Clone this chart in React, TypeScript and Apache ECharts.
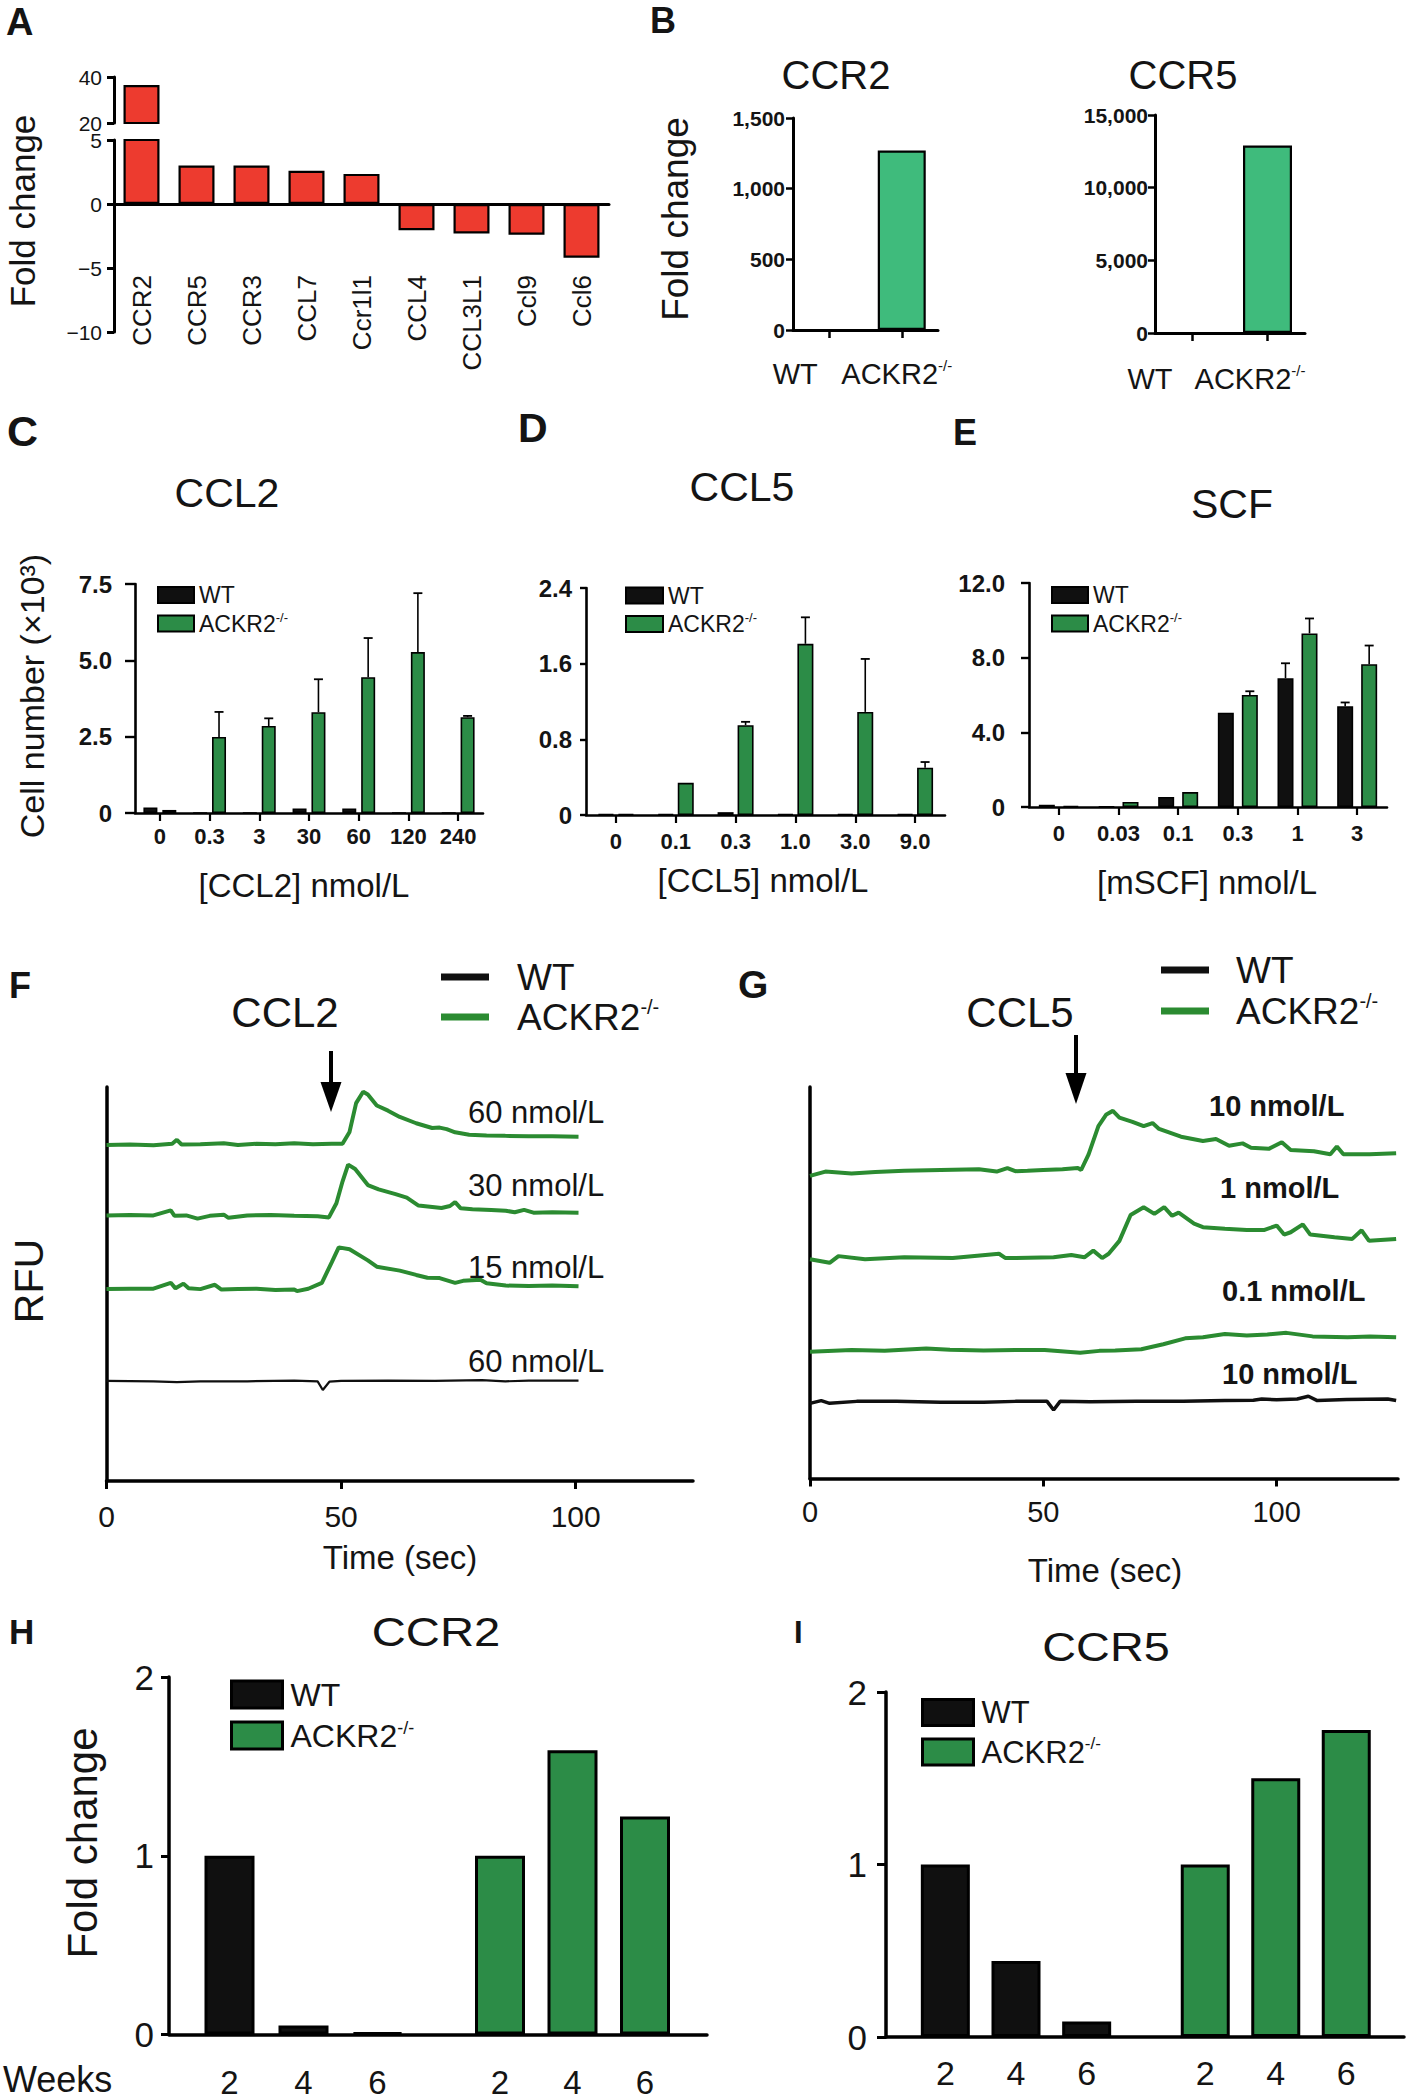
import React, { useEffect, useRef } from 'react';
import * as echarts from 'echarts';

const FONT = "'Liberation Sans', Arial, Helvetica, sans-serif";
const TXT = '#141414';
const RED = '#ED3B2F';
const LIGHT_GREEN = '#3FBB7C';
const GREEN = '#2C8C47';
const TRACE_GREEN = '#2B8B31';
const BLACK = '#101010';

// ---------- Panel A ----------
const A_GENES = ['CCR2', 'CCR5', 'CCR3', 'CCL7', 'Ccr1l1', 'CCL4', 'CCL3L1', 'Ccl9', 'Ccl6'];
const A_FOLD = [36.5, 3.0, 3.0, 2.6, 2.35, -2.05, -2.3, -2.4, -4.2];

// ---------- Panel B ----------
const B_GROUPS = ['WT', 'ACKR2-/-'];
const B_CCR2 = [0, 1270];
const B_CCR5 = [0, 12900];

// ---------- Panel C ----------
const C_DOSES = ['0', '0.3', '3', '30', '60', '120', '240'];
const C_WT = [0.18, 0, 0, 0.15, 0.15, 0, 0];
const C_KO = [0.1, 2.49, 2.85, 3.3, 4.45, 5.27, 3.14];
const C_KO_ERR = [0, 0.82, 0.25, 1.08, 1.28, 1.93, 0.04];

// ---------- Panel D ----------
const D_DOSES = ['0', '0.1', '0.3', '1.0', '3.0', '9.0'];
const D_WT = [0.01, 0.01, 0.03, 0.01, 0.01, 0.01];
const D_KO = [0.01, 0.34, 0.95, 1.81, 1.09, 0.5];
const D_KO_ERR = [0, 0, 0.035, 0.28, 0.56, 0.06];

// ---------- Panel E ----------
const E_DOSES = ['0', '0.03', '0.1', '0.3', '1', '3'];
const E_WT = [0.12, 0.02, 0.54, 5.05, 6.9, 5.4];
const E_WT_ERR = [0, 0, 0, 0, 0.8, 0.2];
const E_KO = [0.06, 0.27, 0.8, 6.0, 9.3, 7.65];
const E_KO_ERR = [0, 0, 0, 0.2, 0.8, 1.0];

// ---------- Panel F (time s, RFU arbitrary 0-100) ----------
const F_KO_60 = [[0, 85.3], [5, 85.4], [10, 85.2], [14, 85.6], [15, 86.6], [16, 85.4], [20, 85.5], [25, 85.7], [28, 85.3], [32, 85.6], [36, 85.5], [40, 85.7], [44, 85.5], [48, 85.6], [50.3, 85.6], [51.8, 88.6], [53.2, 95.9], [54.7, 98.8], [55.7, 98.1], [57.6, 95.3], [60, 94], [62.5, 92.4], [66, 90.8], [69.4, 89.6], [71, 89.7], [72.5, 89.3], [74.3, 88.5], [77.3, 87.9], [81, 87.7], [85, 87.6], [90, 87.5], [95, 87.5], [100.6, 87.4]];
const F_KO_30 = [[0, 67.4], [5, 67.5], [10, 67.4], [13.7, 68.7], [14.5, 67.3], [17, 67.4], [19.4, 66.6], [22, 67.3], [25, 67.6], [26, 66.8], [30, 67.4], [35, 67.5], [40, 67.3], [45, 67.2], [47.4, 66.9], [49, 70.5], [50.3, 76], [51.5, 80.3], [53, 79.2], [55.7, 75.1], [58, 74], [61.6, 72.8], [64, 71.9], [66.5, 69.9], [71.4, 69.3], [73.2, 69.8], [74.3, 70.8], [75.5, 69.2], [78, 69], [82, 68.8], [85.1, 68.6], [87, 68.2], [89, 68.8], [91, 68.1], [95, 68.2], [100.6, 68.1]];
const F_KO_15 = [[0, 48.7], [5, 48.8], [10, 48.8], [13.7, 50.3], [14.7, 48.9], [16.4, 50.1], [17.5, 48.9], [20, 48.7], [23.1, 49.8], [24.5, 48.6], [28, 48.7], [32, 48.8], [36, 48.5], [40, 48.6], [40.6, 48.2], [43, 48.8], [45.9, 50.3], [48, 55.5], [49.5, 59.3], [51.8, 58.8], [55.7, 56.0], [57.6, 54.4], [62.5, 53.4], [66, 52.3], [68.4, 51.6], [71, 51.5], [74.3, 50.3], [76, 50.8], [79.7, 51.1], [81, 50.2], [85.1, 49.6], [90, 49.5], [95, 49.6], [100.6, 49.4]];
const F_WT_60 = [[0, 25.4], [10, 25.3], [15, 25.1], [20, 25.3], [30, 25.3], [40, 25.5], [45, 25.3], [46.1, 23.1], [47.5, 25.2], [50, 25.4], [60, 25.5], [70, 25.4], [80, 25.6], [85, 25.3], [90, 25.5], [100.6, 25.5]];
const F_LABELS = ['60 nmol/L', '30 nmol/L', '15 nmol/L', '60 nmol/L'];

// ---------- Panel G ----------
const G_KO_10 = [[0, 77.3], [3.3, 78.4], [8.9, 77.9], [14, 78.3], [20.2, 78.6], [28, 78.8], [36.2, 79.0], [40, 78.4], [42.3, 79.3], [44, 78.5], [46.6, 78.6], [50, 78.8], [54.1, 79.0], [57.4, 79.3], [58.1, 78.8], [59.7, 82.8], [61.8, 90.0], [63.5, 93.0], [64.9, 93.9], [66.3, 92.2], [69.1, 91.1], [71.5, 90.0], [73.4, 90.8], [74.8, 89.3], [79.5, 87.3], [84.2, 86.2], [87, 86.7], [89.8, 85.0], [92.7, 85.6], [94.5, 84.5], [98.3, 84.2], [101.1, 85.9], [103, 83.9], [108, 83.6], [111.5, 82.8], [112.9, 84.8], [114.3, 82.8], [119.9, 82.8], [125.6, 83.1]];
const G_KO_1 = [[0, 56.0], [4.2, 55.1], [6.1, 56.8], [11.8, 56.0], [20.2, 56.5], [30.6, 56.3], [40.5, 57.4], [41.9, 56.3], [52.2, 56.5], [56, 57.1], [58.8, 56.5], [60.7, 58.2], [62.6, 56.3], [64, 57.4], [66.3, 60.7], [68.7, 67.3], [71.5, 69.3], [73.8, 67.6], [75.9, 69.3], [77.6, 67.1], [79, 67.9], [82.3, 65.1], [84.2, 64.2], [88.9, 63.8], [93.6, 63.5], [97.4, 63.5], [100, 64.6], [101.6, 62.3], [103, 62.9], [105.6, 64.9], [107.2, 62.3], [112.4, 61.6], [116.2, 61.2], [118.2, 63.4], [119.8, 60.7], [125.6, 61.2]];
const G_KO_01 = [[0, 32.4], [8.9, 32.8], [16, 32.6], [24.9, 33.2], [30, 32.9], [37.2, 32.7], [44, 32.8], [50.3, 32.8], [57.9, 32.1], [62, 32.6], [65.4, 32.7], [71, 33.0], [75.7, 34.3], [80.4, 35.8], [84.2, 36.1], [88.9, 36.9], [93.6, 36.5], [98, 36.8], [102.1, 37.2], [107.7, 36.3], [115.2, 36.1], [120, 36.3], [125.6, 36.1]];
const G_WT_10 = [[0, 19.2], [2.4, 19.9], [4.2, 19.2], [10, 19.7], [18.5, 19.7], [28, 19.5], [37.2, 19.5], [44, 19.7], [50.8, 19.7], [52.2, 17.5], [53.6, 19.7], [60, 19.6], [70, 19.7], [80, 19.7], [88.9, 19.9], [95, 20.0], [96.8, 20.3], [100, 20.1], [104.4, 20.3], [106.8, 21.0], [108.7, 19.9], [115, 20.2], [123.8, 20.3], [125.6, 19.9]];
const G_LABELS = ['10 nmol/L', '1 nmol/L', '0.1 nmol/L', '10 nmol/L'];

const TIME_TICKS = [0, 50, 100];

// ---------- Panels H / I ----------
const WEEKS = ['2', '4', '6'];
const H_WT = [1.0, 0.05, 0.01];
const H_KO = [1.0, 1.59, 1.22];
const I_WT = [1.0, 0.44, 0.09];
const I_KO = [1.0, 1.5, 1.78];

// ---------- helpers ----------
function grid(left: number, top: number, width: number, height: number) {
  return { left, top, width, height, containLabel: false, outerBoundsMode: 'none' };
}
const aline = (w: number, extra: any = {}) => ({ show: true, onZero: true, lineStyle: { color: '#000', width: w }, ...extra });
const tick = (len: number, w: number, extra: any = {}) => ({ show: true, inside: false, length: len, lineStyle: { color: '#000', width: w }, ...extra });
const lab = (size: number, bold: boolean, margin: number, extra: any = {}) => ({
  show: true, fontSize: size, fontWeight: bold ? 'bold' : 'normal', fontFamily: FONT, color: TXT, margin, ...extra,
});
const noSplit = { show: false };

function txt(text: string, x: number, y: number, size: number, o: any = {}) {
  return {
    type: 'text', x, y, rotation: o.rot || 0, scaleX: o.sx || 1, scaleY: o.sy || 1, silent: true, z: 20,
    style: {
      text, fill: TXT, fontSize: size, fontFamily: FONT, fontWeight: o.bold ? 'bold' : 'normal',
      textAlign: o.align || 'center', textVerticalAlign: 'middle', align: o.align || 'center', verticalAlign: 'middle',
    },
  };
}

function bar(idx: number, name: string, data: number[], color: string, width: number, gap: string, bw: number) {
  return {
    type: 'bar', name, xAxisIndex: idx, yAxisIndex: idx, data, barWidth: width, barGap: gap, silent: true,
    itemStyle: { color, borderColor: '#000', borderWidth: bw }, z: 2,
  };
}

function errBars(idx: number, values: number[], errs: number[], offset: number) {
  const data: number[][] = [];
  values.forEach((v, i) => { if (errs[i] > 0) data.push([i, v, v + errs[i]]); });
  return {
    type: 'custom', xAxisIndex: idx, yAxisIndex: idx, z: 4, silent: true,
    encode: { x: 0, y: [1, 2] },
    renderItem: (params: any, api: any) => {
      const base = api.coord([api.value(0), api.value(1)]);
      const top = api.coord([api.value(0), api.value(2)]);
      const x = base[0] + offset;
      return {
        type: 'group', children: [
          { type: 'line', shape: { x1: x, y1: base[1], x2: x, y2: top[1] }, style: { stroke: '#000', lineWidth: 1.6 } },
          { type: 'line', shape: { x1: x - 4.5, y1: top[1], x2: x + 4.5, y2: top[1] }, style: { stroke: '#000', lineWidth: 1.8 } },
        ],
      };
    },
    data,
  };
}

function trace(idx: number, name: string, data: number[][], color: string, width: number) {
  return {
    type: 'line', name, xAxisIndex: idx, yAxisIndex: idx, data, showSymbol: false, symbol: 'none', silent: true,
    lineStyle: { color, width }, itemStyle: { color }, z: 3,
  };
}

function legend(left: number, top: number, names: string[], o: any) {
  return {
    left, top, orient: 'vertical', padding: 0, itemGap: o.gap, itemWidth: o.w, itemHeight: o.h, icon: 'rect',
    selectedMode: false,
    data: names.map((n) => (o.border ? { name: n, itemStyle: { borderWidth: o.border } } : { name: n })),
    formatter: (name: string) => (name.indexOf('WT') === 0 ? '{t|WT}' : '{t|ACKR2}{s|-/-}'),
    textStyle: {
      fontFamily: FONT, color: TXT, fontSize: o.fs, lineHeight: o.lh,
      rich: {
        t: { fontFamily: FONT, color: TXT, fontSize: o.fs, lineHeight: o.lh, padding: [0, 0, 0, o.pad || 0] },
        s: { fontFamily: FONT, color: TXT, fontSize: Math.round(o.fs * 0.55), lineHeight: Math.round(o.fs * 0.6), verticalAlign: 'top' },
      },
    },
  };
}

function bLabels(size: number, wtPad: number, koPad: number) {
  return {
    formatter: (v: string) => (v === 'WT' ? '{w|WT}' : '{k|ACKR2}{s|-/-}'),
    rich: {
      w: { fontSize: size, lineHeight: size + 2, fontFamily: FONT, color: TXT, padding: [0, wtPad, 0, 0] },
      k: { fontSize: size, lineHeight: size + 2, fontFamily: FONT, color: TXT },
      s: { fontSize: Math.round(size * 0.52), lineHeight: Math.round(size * 0.55), fontFamily: FONT, color: TXT, verticalAlign: 'top', padding: [0, koPad, 0, 0] },
    },
  };
}

const comma = (v: number) => String(v).replace(/\B(?=(\d{3})+(?!\d))/g, ',');
const fix1 = (v: number) => (v === 0 ? '0' : v.toFixed(1));
const minus = (v: number) => (v < 0 ? '\u2212' + String(-v) : String(v));

function buildOption(): any {
  const grids = [
    grid(114, 77, 495, 46), // 0 A upper
    grid(114, 140, 495, 192), // 1 A lower
    grid(793, 118, 145, 212), // 2 B CCR2
    grid(1155, 115, 150, 218), // 3 B CCR5
    grid(135, 584, 348, 229), // 4 C
    grid(586, 588, 359, 227), // 5 D
    grid(1029, 583, 358, 224), // 6 E
    grid(106.5, 1087, 586.5, 394), // 7 F
    grid(810, 1087, 588, 391.5), // 8 G
    grid(169, 1677, 538, 357.5), // 9 H frame
    grid(192.5, 1677, 222, 357.5), // 10 H WT
    grid(463.75, 1677, 217.5, 357.5), // 11 H KO
    grid(886, 1692, 518, 345), // 12 I frame
    grid(910, 1692, 212, 345), // 13 I WT
    grid(1170, 1692, 211.5, 345), // 14 I KO
  ];

  const xAxis: any[] = [
    { gridIndex: 0, type: 'category', data: A_GENES, show: false },
    { gridIndex: 1, type: 'category', data: A_GENES, axisLine: aline(3), axisTick: { show: false }, axisLabel: lab(26, false, -57, { rotate: 90, interval: 0 }), splitLine: noSplit },
    { gridIndex: 2, type: 'category', data: B_GROUPS, axisLine: aline(3), axisTick: tick(8, 2.5, { alignWithLabel: true }), axisLabel: { ...lab(29, false, 28, { interval: 0 }), ...bLabels(29, 68, 10) } },
    { gridIndex: 3, type: 'category', data: B_GROUPS, axisLine: aline(3), axisTick: tick(8, 2.5, { alignWithLabel: true }), axisLabel: { ...lab(29, false, 30, { interval: 0 }), ...bLabels(29, 85, 35) } },
    { gridIndex: 4, type: 'category', data: C_DOSES, axisLine: aline(2.6), axisTick: tick(8, 2.2, { alignWithLabel: true }), axisLabel: lab(22, true, 12.5, { interval: 0 }) },
    { gridIndex: 5, type: 'category', data: D_DOSES, axisLine: aline(2.6), axisTick: tick(8, 2.2, { alignWithLabel: true }), axisLabel: lab(22, true, 15.5, { interval: 0 }) },
    { gridIndex: 6, type: 'category', data: E_DOSES, axisLine: aline(2.6), axisTick: tick(8, 2.2, { alignWithLabel: true }), axisLabel: lab(22, true, 15.5, { interval: 0 }) },
    { gridIndex: 7, type: 'value', min: 0, max: 125, axisLine: aline(3.5), axisTick: tick(8, 3, { customValues: TIME_TICKS }), axisLabel: lab(30, false, 20, { customValues: TIME_TICKS }), splitLine: noSplit },
    { gridIndex: 8, type: 'value', min: 0, max: 126, axisLine: aline(3.5), axisTick: tick(8, 3, { customValues: TIME_TICKS }), axisLabel: lab(29, false, 19, { customValues: TIME_TICKS }), splitLine: noSplit },
    { gridIndex: 9, type: 'value', min: 0, max: 1, axisLine: aline(3.5), axisTick: { show: false }, axisLabel: { show: false }, splitLine: noSplit },
    { gridIndex: 10, type: 'category', data: WEEKS, axisLine: { show: false }, axisTick: { show: false }, axisLabel: lab(33, false, 31, { interval: 0 }) },
    { gridIndex: 11, type: 'category', data: WEEKS, axisLine: { show: false }, axisTick: { show: false }, axisLabel: lab(33, false, 31, { interval: 0 }) },
    { gridIndex: 12, type: 'value', min: 0, max: 1, axisLine: aline(3.5), axisTick: { show: false }, axisLabel: { show: false }, splitLine: noSplit },
    { gridIndex: 13, type: 'category', data: WEEKS, axisLine: { show: false }, axisTick: { show: false }, axisLabel: lab(34, false, 19, { interval: 0 }) },
    { gridIndex: 14, type: 'category', data: WEEKS, axisLine: { show: false }, axisTick: { show: false }, axisLabel: lab(34, false, 19, { interval: 0 }) },
  ];

  const yAxis: any[] = [
    { gridIndex: 0, type: 'value', min: 20, max: 40, interval: 20, axisLine: aline(3), axisTick: tick(7, 3), axisLabel: lab(21, false, 12), splitLine: noSplit },
    { gridIndex: 1, type: 'value', min: -10, max: 5, interval: 5, axisLine: aline(3), axisTick: tick(7, 3), axisLabel: lab(21, false, 12, { formatter: minus }), splitLine: noSplit },
    { gridIndex: 2, type: 'value', min: 0, max: 1500, interval: 500, axisLine: aline(3), axisTick: tick(7, 2.5), axisLabel: lab(21, true, 8, { formatter: comma }), splitLine: noSplit },
    { gridIndex: 3, type: 'value', min: 0, max: 15000, interval: 5000, axisLine: aline(3), axisTick: tick(7, 2.5), axisLabel: lab(21, true, 7, { formatter: comma }), splitLine: noSplit },
    { gridIndex: 4, type: 'value', min: 0, max: 7.5, interval: 2.5, axisLine: aline(2.6), axisTick: tick(10, 2.4), axisLabel: lab(24, true, 23, { formatter: fix1 }), splitLine: noSplit },
    { gridIndex: 5, type: 'value', min: 0, max: 2.4, interval: 0.8, axisLine: aline(2.6), axisTick: tick(6, 2.4), axisLabel: lab(24, true, 14, { formatter: fix1 }), splitLine: noSplit },
    { gridIndex: 6, type: 'value', min: 0, max: 12, interval: 4, axisLine: aline(2.6), axisTick: tick(8, 2.4), axisLabel: lab(24, true, 24, { formatter: fix1 }), splitLine: noSplit },
    { gridIndex: 7, type: 'value', min: 0, max: 100, axisLine: aline(3.5), axisTick: { show: false }, axisLabel: { show: false }, splitLine: noSplit },
    { gridIndex: 8, type: 'value', min: 0, max: 100, axisLine: aline(3.5), axisTick: { show: false }, axisLabel: { show: false }, splitLine: noSplit },
    { gridIndex: 9, type: 'value', min: 0, max: 2, interval: 1, axisLine: aline(3.5), axisTick: tick(8, 3), axisLabel: lab(35, false, 15), splitLine: noSplit },
    { gridIndex: 10, type: 'value', min: 0, max: 2, show: false },
    { gridIndex: 11, type: 'value', min: 0, max: 2, show: false },
    { gridIndex: 12, type: 'value', min: 0, max: 2, interval: 1, axisLine: aline(3.5), axisTick: tick(9, 3), axisLabel: lab(35, false, 19), splitLine: noSplit },
    { gridIndex: 13, type: 'value', min: 0, max: 2, show: false },
    { gridIndex: 14, type: 'value', min: 0, max: 2, show: false },
  ];

  const series: any[] = [
    // A
    bar(0, 'A', A_FOLD, RED, 36, '0%', 2.2),
    bar(1, 'A', A_FOLD, RED, 36, '0%', 2.2),
    // B
    bar(2, 'B', B_CCR2, LIGHT_GREEN, 48, '0%', 2.2),
    bar(3, 'B', B_CCR5, LIGHT_GREEN, 49, '0%', 2.2),
    // C
    bar(4, 'WT', C_WT, BLACK, 14, '35%', 1.6),
    bar(4, 'ACKR2-/-', C_KO, GREEN, 14, '35%', 1.6),
    errBars(4, C_KO, C_KO_ERR, 9.45),
    // D
    bar(5, 'WT', D_WT, BLACK, 16, '25%', 1.6),
    bar(5, 'ACKR2-/-', D_KO, GREEN, 16, '25%', 1.6),
    errBars(5, D_KO, D_KO_ERR, 10),
    // E
    bar(6, 'WT', E_WT, BLACK, 16, '50%', 1.6),
    bar(6, 'ACKR2-/-', E_KO, GREEN, 16, '50%', 1.6),
    errBars(6, E_WT, E_WT_ERR, -12),
    errBars(6, E_KO, E_KO_ERR, 12),
    // F
    trace(7, 'WT-line', F_WT_60, BLACK, 2.2),
    trace(7, 'ACKR2-line', F_KO_15, TRACE_GREEN, 4),
    trace(7, 'ACKR2-line', F_KO_30, TRACE_GREEN, 4),
    trace(7, 'ACKR2-line', F_KO_60, TRACE_GREEN, 4),
    // G
    trace(8, 'WT-line', G_WT_10, BLACK, 3.5),
    trace(8, 'ACKR2-line', G_KO_01, TRACE_GREEN, 4),
    trace(8, 'ACKR2-line', G_KO_1, TRACE_GREEN, 4),
    trace(8, 'ACKR2-line', G_KO_10, TRACE_GREEN, 4),
    // H
    bar(10, 'WT', H_WT, BLACK, 50, '0%', 3),
    bar(11, 'ACKR2-/-', H_KO, GREEN, 50, '0%', 3),
    // I
    bar(13, 'WT', I_WT, BLACK, 49, '0%', 3),
    bar(14, 'ACKR2-/-', I_KO, GREEN, 49, '0%', 3),
  ];

  const barNames = ['WT', 'ACKR2-/-'];
  const lineNames = ['WT-line', 'ACKR2-line'];
  const legends = [
    legend(157, 582, barNames, { w: 36, h: 16, gap: 2.5, fs: 23, lh: 26 }),
    legend(625, 582.5, barNames, { w: 37, h: 16, gap: 2.5, fs: 23, lh: 26 }),
    legend(1051, 582, barNames, { w: 36, h: 16, gap: 2.5, fs: 23, lh: 26 }),
    legend(441, 957, lineNames, { w: 48, h: 7, gap: 0, fs: 37, lh: 40, pad: 23 }),
    legend(1161, 949.5, lineNames, { w: 48, h: 7, gap: 0, fs: 37, lh: 41, pad: 22 }),
    legend(230, 1677.5, barNames, { w: 51, h: 27, gap: 7, fs: 32, lh: 34, border: 3, pad: 3 }),
    legend(921, 1695.5, barNames, { w: 51, h: 26, gap: 5.5, fs: 31, lh: 34, border: 3, pad: 3 }),
  ];

  const rot = Math.PI / 2;
  const elements: any[] = [
    // panel letters
    txt('A', 6, 21.5, 38, { bold: true, align: 'left' }),
    txt('B', 650, 20.5, 36, { bold: true, align: 'left' }),
    txt('C', 7, 431, 43, { bold: true, align: 'left' }),
    txt('D', 518, 428, 41, { bold: true, align: 'left' }),
    txt('E', 953, 432.5, 36, { bold: true, align: 'left' }),
    txt('F', 9, 985, 36, { bold: true, align: 'left' }),
    txt('G', 738, 984, 39, { bold: true, align: 'left' }),
    txt('H', 9, 1631, 35, { bold: true, align: 'left' }),
    txt('I', 794, 1632.5, 31, { bold: true, align: 'left' }),
    // titles
    txt('CCR2', 836, 75, 40),
    txt('CCR5', 1183, 75, 40),
    txt('CCL2', 227, 493, 41),
    txt('CCL5', 742, 487, 41),
    txt('SCF', 1232, 504, 41),
    txt('CCR2', 436, 1632, 40, { sx: 1.18 }),
    txt('CCR5', 1106, 1647, 40, { sx: 1.17 }),
    txt('CCL2', 285, 1012, 42),
    txt('CCL5', 1020, 1012, 42),
    // axis names
    txt('Fold change', 22, 211, 35, { rot }),
    txt('Fold change', 675, 219, 37, { rot }),
    txt('Cell number (\u00d710\u00b3)', 32, 696, 34, { rot }),
    txt('RFU', 29, 1281, 41, { rot }),
    txt('Fold change', 82, 1843, 42, { rot }),
    txt('[CCL2] nmol/L', 304, 885, 33),
    txt('[CCL5] nmol/L', 763, 880, 33),
    txt('[mSCF] nmol/L', 1207, 882, 33),
    txt('Time (sec)', 400, 1557, 33),
    txt('Time (sec)', 1105, 1570, 33),
    txt('Weeks', 3, 2079, 36, { align: 'left' }),
    // trace labels F
    txt(F_LABELS[0], 468, 1112, 31, { align: 'left' }),
    txt(F_LABELS[1], 468, 1185, 31, { align: 'left' }),
    txt(F_LABELS[2], 468, 1267, 31, { align: 'left' }),
    txt(F_LABELS[3], 468, 1361, 31, { align: 'left' }),
    // trace labels G
    txt(G_LABELS[0], 1209, 1106, 29, { align: 'left', bold: true }),
    txt(G_LABELS[1], 1220, 1188, 29, { align: 'left', bold: true }),
    txt(G_LABELS[2], 1222, 1291, 29, { align: 'left', bold: true }),
    txt(G_LABELS[3], 1222, 1374, 29, { align: 'left', bold: true }),
    // arrows
    { type: 'line', silent: true, z: 20, shape: { x1: 331, y1: 1051, x2: 331, y2: 1088 }, style: { stroke: '#000', lineWidth: 4 } },
    { type: 'polygon', silent: true, z: 20, shape: { points: [[320.5, 1082], [341.5, 1082], [331, 1112]] }, style: { fill: '#000' } },
    { type: 'line', silent: true, z: 20, shape: { x1: 1076, y1: 1035, x2: 1076, y2: 1078 }, style: { stroke: '#000', lineWidth: 4 } },
    { type: 'polygon', silent: true, z: 20, shape: { points: [[1065.5, 1073], [1086.5, 1073], [1076, 1104]] }, style: { fill: '#000' } },
  ];

  return {
    animation: false,
    backgroundColor: '#ffffff',
    textStyle: { fontFamily: FONT, color: TXT },
    grid: grids,
    xAxis,
    yAxis,
    series,
    legend: legends,
    graphic: { elements },
  };
}

export default function App() {
  const ref = useRef<HTMLDivElement>(null);
  useEffect(() => {
    if (!ref.current) return;
    const chart = echarts.init(ref.current, undefined, { renderer: 'svg', width: 1408, height: 2100 });
    chart.setOption(buildOption());
    return () => {
      chart.dispose();
    };
  }, []);
  return (
    <div
      ref={ref}
      style={{ position: 'absolute', left: 0, top: 0, width: 1408, height: 2100, background: '#fff' }}
    />
  );
}
